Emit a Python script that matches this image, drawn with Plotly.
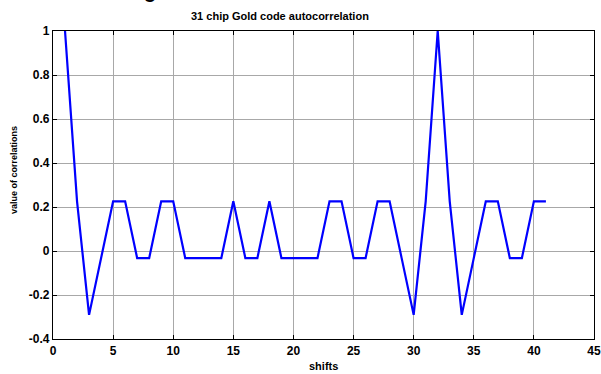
import plotly.graph_objects as go

shifts = list(range(1, 42))
correlation = [
    1.0, 0.2258, -0.2903, -0.0323, 0.2258, 0.2258, -0.0323, -0.0323, 0.2258, 0.2258,
    -0.0323, -0.0323, -0.0323, -0.0323, 0.2258, -0.0323, -0.0323, 0.2258, -0.0323, -0.0323,
    -0.0323, -0.0323, 0.2258, 0.2258, -0.0323, -0.0323, 0.2258, 0.2258, -0.0323, -0.2903,
    0.2258, 1.0, 0.2258, -0.2903, -0.0323, 0.2258, 0.2258, -0.0323, -0.0323, 0.2258, 0.2258,
]
x_ticks = [0, 5, 10, 15, 20, 25, 30, 35, 40, 45]
y_ticks = [-0.4, -0.2, 0, 0.2, 0.4, 0.6, 0.8, 1]
y_tick_text = ["-0.4", "-0.2", "0", "0.2", "0.4", "0.6", "0.8", "1"]

FONT = "Liberation Sans, Arial, sans-serif"
L, R, T, B = 53, 7, 31, 35
W, H = 601, 374
PW, PH = W - L - R, H - T - B

fig = go.Figure()
fig.add_trace(go.Scatter(x=shifts, y=correlation, mode="lines",
                         line=dict(color="#0000ff", width=2.2), showlegend=False))

axis_common = dict(showline=True, linecolor="black", linewidth=1.3, mirror="ticks",
                   ticks="inside", ticklen=4, tickcolor="black", showgrid=True,
                   gridcolor="#a8a8a8", gridwidth=1, zeroline=False, automargin=False,
                   tickfont=dict(family=FONT, size=12, color="black", weight="bold"))

fig.update_xaxes(range=[0, 45], tickvals=x_ticks, ticklabelstandoff=0, **axis_common)
fig.update_yaxes(range=[-0.4, 1], tickvals=y_ticks, ticktext=y_tick_text, **axis_common)

fig.add_annotation(text="<b>31 chip Gold code autocorrelation</b>", xref="paper", yref="paper",
                   x=(280 - L) / PW, y=1 + (T - 16) / PH, yanchor="middle", xanchor="center",
                   showarrow=False, font=dict(family=FONT, size=11, color="black"))
fig.add_annotation(text="<b>shifts</b>", xref="paper", yref="paper",
                   x=0.5, y=-(366 - (T + PH)) / PH, yanchor="middle", xanchor="center",
                   showarrow=False, font=dict(family=FONT, size=11, color="black"))
fig.add_annotation(text="<b>value of correlations</b>", xref="paper", yref="paper",
                   x=-(L - 14) / PW, y=(T + PH - 170) / PH, yanchor="middle", xanchor="center",
                   textangle=-90, showarrow=False, font=dict(family=FONT, size=9, color="black"))
fig.add_annotation(text="<b>g</b>", xref="paper", yref="paper",
                   x=(150 - L) / PW, y=1 + (T - 4) / PH, yanchor="bottom", xanchor="center",
                   showarrow=False, font=dict(family=FONT, size=20, color="black"))

fig.update_layout(width=W, height=H, margin=dict(l=L, r=R, t=T, b=B),
                  plot_bgcolor="white", paper_bgcolor="white")

fig.write_html("out.html", config={"displayModeBar": False},
               post_script="document.body.style.margin='0';document.body.style.overflow='hidden';")
